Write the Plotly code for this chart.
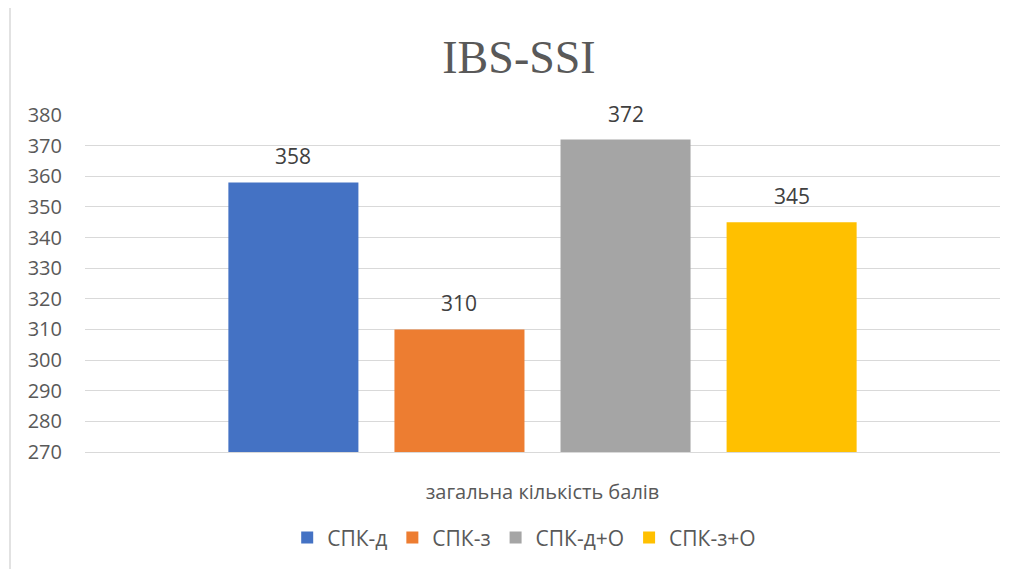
import plotly.graph_objects as go

title_text = "IBS-SSI"
category = ["загальна кількість балів"]
series_names = ["СПК-д", "СПК-з", "СПК-д+О", "СПК-з+О"]
series_values = [358, 310, 372, 345]
series_colors = ["#4472C4", "#ED7D31", "#A5A5A5", "#FFC000"]
y_ticks = list(range(270, 381, 10))

W, H = 1022, 569
ML, MR, MT, MB = 77, 30, 107, 125
BARGAP, BARGROUPGAP = 0.274, 0.217
plot_w = W - ML - MR
slot_px = plot_w * (1 - BARGAP) / len(series_names)

fig = go.Figure()
for name, val, col in zip(series_names, series_values, series_colors):
    fig.add_trace(go.Bar(
        x=category, y=[val], name=name, marker_color=col,
        marker_line_width=0,
    ))

annotations = []
n = len(series_names)
for i, val in enumerate(series_values):
    annotations.append(dict(
        x=category[0], y=val, xref="x", yref="y", text=str(val), showarrow=False,
        xshift=(i - (n - 1) / 2) * slot_px, yshift=26, yanchor="middle",
        font=dict(family="Open Sans", size=21, color="#404040"),
    ))

px0 = 85  # screen left of plot
fig.update_layout(
    width=W, height=H,
    margin=dict(l=ML, r=MR, t=MT, b=MB),
    paper_bgcolor="white", plot_bgcolor="white",
    barmode="group", bargap=BARGAP, bargroupgap=BARGROUPGAP,
    title=dict(text=title_text, x=0.5, xanchor="center", y=1 - 49/H, yanchor="middle",
               font=dict(family="Liberation Serif", size=46, color="#595959")),
    showlegend=True,
    legend=dict(orientation="h", x=0.48, xanchor="center", y=-0.255, yanchor="middle",
                font=dict(family="Open Sans", size=21, color="#595959"),
                traceorder="normal", itemwidth=30),
    annotations=annotations,
    shapes=[dict(type="rect", xref="paper", yref="paper",
                 x0=(10-85)/915, x1=1.2, y0=-0.5, y1=(452-6)/337,
                 line=dict(color="#D9D9D9", width=1.5), fillcolor="rgba(0,0,0,0)", layer="below")],
)
fig.update_yaxes(range=[270, 380], tickvals=y_ticks, showgrid=True, gridcolor="#D9D9D9",
                 gridwidth=1, zeroline=False, showline=False, ticks="",
                 ticklabelstandoff=22,
                 tickfont=dict(family="Open Sans", size=20, color="#595959"))
fig.update_xaxes(showline=True, linecolor="#D9D9D9", linewidth=1, ticks="",
                 ticklabelstandoff=22,
                 tickfont=dict(family="Open Sans", size=20, color="#595959"))

fig.write_html("out.html")
